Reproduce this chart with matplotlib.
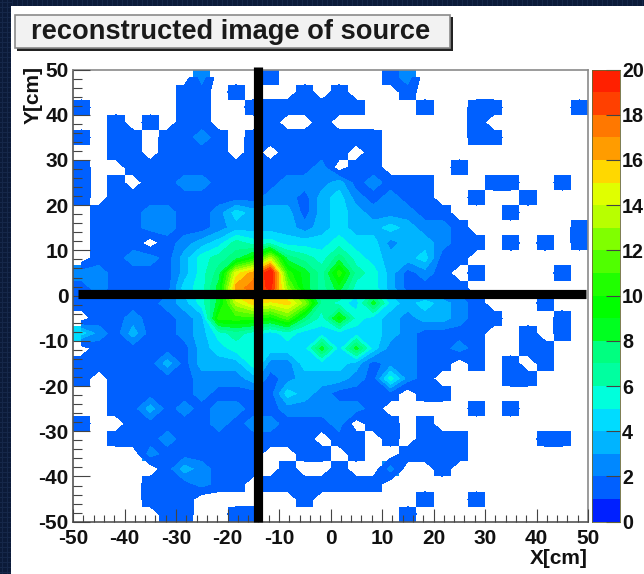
import numpy as np
import matplotlib
matplotlib.use("Agg")
import matplotlib.pyplot as plt
from matplotlib.colors import ListedColormap, BoundaryNorm
from matplotlib.patches import Rectangle
from matplotlib.ticker import FixedLocator, MultipleLocator

plt.rcParams['font.family'] = ['Liberation Sans', 'DejaVu Sans']
plt.rcParams['axes.unicode_minus'] = False

W, H = 644, 574

# Bin contents (band floor per bin), top row y = +48 to bottom row y = -48
row00 = [0,0,0,0,0,0,0,2,0,0,0,1,0,0,0,0,0,0,1,2,0,0,0,0,0,0,0,0,0,0]
row01 = [0,0,0,0,0,0,1,1,0,1,0,0,0,1,0,1,0,0,0,1,0,0,0,0,0,0,0,0,0,0]
row02 = [1,0,0,0,0,0,1,1,0,0,1,1,1,1,1,1,1,0,0,0,1,0,0,1,1,0,0,0,0,1]
row03 = [0,0,1,0,1,0,1,1,0,0,0,1,0,0,1,0,0,0,0,0,0,0,0,1,0,0,0,0,0,0]
row04 = [1,0,1,1,0,1,1,2,1,0,1,1,1,1,1,1,1,1,0,0,0,0,0,1,1,0,0,0,0,0]
row05 = [0,0,1,1,0,1,1,1,1,0,1,0,1,1,1,1,0,1,0,0,0,0,0,0,0,0,0,0,0,0]
row06 = [1,0,0,1,1,1,1,1,1,1,1,1,1,1,2,0,1,1,0,0,0,0,1,0,0,0,0,0,0,0]
row07 = [1,0,1,0,1,1,2,2,1,1,1,1,2,2,2,3,1,2,1,1,1,0,0,0,1,1,0,0,1,0]
row08 = [1,0,1,1,1,1,1,1,1,1,1,2,2,1,3,4,2,1,2,1,1,0,0,1,0,0,1,0,0,0]
row09 = [0,1,1,1,2,2,1,1,2,4,3,3,3,1,3,4,3,2,2,2,1,1,0,0,0,1,0,0,0,0]
row10 = [0,1,1,1,2,2,1,1,2,3,3,3,3,2,3,4,3,3,4,3,2,2,1,0,0,0,0,0,0,1]
row11 = [0,1,1,1,0,1,2,3,4,6,5,5,4,4,4,5,4,4,2,3,3,2,1,1,0,1,0,1,0,1]
row12 = [0,1,1,2,2,1,3,5,6,7,9,13,7,6,5,7,5,4,3,3,4,1,1,0,0,0,0,0,0,0]
row13 = [2,2,1,1,1,1,3,5,7,14,16,20,10,8,6,10,6,5,3,1,2,1,0,1,0,0,0,0,1,0]
row14 = [1,2,1,1,1,1,4,5,8,16,17,19,12,8,6,8,5,5,3,1,1,1,1,0,0,0,0,0,0,0]
row15 = [1,1,1,1,1,2,3,5,8,13,15,14,15,12,6,5,4,8,4,3,4,3,2,1,0,0,0,1,0,0]
row16 = [0,1,1,2,1,1,2,3,10,10,10,9,11,7,5,9,5,4,3,2,3,3,2,1,1,0,0,0,1,0]
row17 = [4,2,1,3,1,1,2,3,5,6,5,4,5,4,4,4,4,4,3,2,1,1,1,1,0,0,1,0,1,0]
row18 = [0,1,1,1,1,1,1,3,4,5,5,4,4,4,8,4,8,4,2,2,1,1,2,1,0,0,1,1,0,0]
row19 = [1,1,1,1,1,3,1,3,3,3,5,2,2,4,4,4,3,1,2,2,1,1,0,1,0,1,0,1,0,0]
row20 = [1,0,1,1,1,1,1,2,2,2,3,1,2,3,3,3,2,1,5,2,1,0,0,0,0,1,1,0,0,0]
row21 = [0,0,1,1,1,1,1,2,1,1,1,1,4,3,2,1,1,1,1,0,1,1,0,0,0,0,0,0,0,0]
row22 = [0,0,1,1,3,1,2,1,2,2,1,1,2,2,2,2,2,1,0,0,0,0,0,1,0,1,0,0,0,0]
row23 = [1,0,0,1,1,1,1,1,2,1,2,2,1,1,1,2,0,1,1,0,1,0,0,0,0,0,0,0,0,0]
row24 = [0,0,1,1,1,2,1,1,1,1,1,1,1,1,0,1,1,0,1,0,1,1,1,0,0,0,0,1,1,0]
row25 = [0,0,0,0,2,1,1,1,1,1,1,0,0,1,1,0,1,0,0,1,1,1,1,0,0,0,0,0,0,0]
row26 = [0,0,0,0,0,1,3,2,1,1,1,0,1,0,0,1,0,0,2,0,0,1,0,0,0,0,0,0,0,0]
row27 = [0,0,0,0,1,1,1,2,1,1,0,1,1,1,1,1,1,1,0,0,0,0,0,0,0,0,0,0,0,0]
row28 = [0,0,0,0,1,1,1,0,0,0,0,0,0,1,0,0,0,0,0,0,1,0,0,1,0,0,0,0,0,0]
row29 = [0,0,0,0,0,1,1,0,0,1,1,0,0,0,0,0,0,0,0,1,0,0,0,0,0,0,0,0,0,0]

counts = np.array([row00,row01,row02,row03,row04,row05,row06,row07,row08,row09,
                   row10,row11,row12,row13,row14,row15,row16,row17,row18,row19,
                   row20,row21,row22,row23,row24,row25,row26,row27,row28,row29], float)

band_colors = ['#0020ff','#0060ff','#0088ff','#00b4ff','#00dcff',
               '#00ffdc','#00ffa0','#00ff80','#00ff20','#00ff00',
               '#20ff00','#50ff00','#80ff00','#b8ff00','#e0ff00',
               '#ffd800','#ff9c00','#ff7800','#ff4000','#ff2000']
cbar_ticks = [0,2,4,6,8,10,12,14,16,18,20]
axis_ticks = [-50,-40,-30,-20,-10,0,10,20,30,40,50]
title_text = "reconstructed image of source"
cross_x, cross_y = -14.1, 0.3

def px_rect(x0, y0, x1, y1):
    return (x0/W, 1-y1/H, (x1-x0)/W, (y1-y0)/H)

fig = plt.figure(figsize=(W/100, H/100), dpi=100, facecolor='#0b1a38')
fig.patches.append(Rectangle((11/W, 0), 1-11/W, 1-6/H, transform=fig.transFigure,
                             fc='white', ec='none', zorder=-5))
# texture of the dark background
for xp in np.arange(2, 11, 5):
    fig.add_artist(plt.Line2D([xp/W]*2, [0, 1], color='#16284a', lw=0.7, zorder=-6))
for yp in np.arange(2, H, 5):
    fig.add_artist(plt.Line2D([0, 11/W], [1-yp/H]*2, color='#16284a', lw=0.7, zorder=-6))
for xp in np.arange(12, W, 5):
    fig.add_artist(plt.Line2D([xp/W]*2, [1-6/H, 1], color='#16284a', lw=0.7, zorder=-6))

# title box
x0, y0, w, h = px_rect(17, 17, 453, 51)
fig.patches.append(Rectangle((x0, y0), w, h, transform=fig.transFigure, fc='#222222', ec='none'))
x0, y0, w, h = px_rect(15, 15, 450, 48)
fig.patches.append(Rectangle((x0, y0), w, h, transform=fig.transFigure, fc='#f2f2f2', ec='#8a8a8a', lw=1.2))
fig.text(31/W, 1-32/H, title_text, fontsize=19.6, fontweight='bold', color='#1a1a1a',
         ha='left', va='center')

# main axes
ax = fig.add_axes(px_rect(73, 69.5, 588, 521.7))
edges = np.linspace(-50, 50, counts.shape[1]+1)
centers = 0.5*(edges[:-1]+edges[1:])
levels = np.arange(0, 21)
cmap = ListedColormap(band_colors)
norm = BoundaryNorm(levels, cmap.N)
field = (counts + 0.5*(counts > 0))[::-1]
ax.pcolormesh(edges, edges, np.ma.masked_where(field <= 0, field), cmap=cmap, norm=norm,
              linewidth=0, antialiased=False, rasterized=True)
cont_levels = [0.75] + list(range(2, 20)) + [20.6]
ax.contourf(centers, centers, field, levels=cont_levels, colors=band_colors[1:], antialiased=False)

ax.set_xlim(-50, 50); ax.set_ylim(-50, 50)
for s in ['top','right']:
    ax.spines[s].set_color('#8a8a8a'); ax.spines[s].set_linewidth(1.2)
for s in ['left','bottom']:
    ax.spines[s].set_color('#555555'); ax.spines[s].set_linewidth(1.2)

ax.xaxis.set_major_locator(FixedLocator(axis_ticks))
ax.yaxis.set_major_locator(FixedLocator(axis_ticks))
ax.xaxis.set_minor_locator(MultipleLocator(2))
ax.yaxis.set_minor_locator(MultipleLocator(2))
ax.set_xticklabels([str(t) for t in axis_ticks], fontsize=15, fontweight='bold', color='#111111')
ax.set_yticklabels([str(t) for t in axis_ticks], fontsize=15, fontweight='bold', color='#111111')
ax.tick_params(axis='x', which='major', direction='in', length=9.5, width=0.8, color='#444444', pad=5.5)
ax.tick_params(axis='x', which='minor', direction='in', length=5, width=0.8, color='#444444')
ax.tick_params(axis='y', which='major', direction='in', length=12, width=0.8, color='#444444', pad=3)
ax.tick_params(axis='y', which='minor', direction='in', length=6.5, width=0.8, color='#444444')
ax.set_axisbelow(False)

# cross-hair lines
ax.plot([cross_x, cross_x], [50.6, -50], color='black', lw=6.6, solid_capstyle='butt', clip_on=False, zorder=6)
ax.plot([-49, 49.6], [cross_y, cross_y], color='black', lw=6.6, solid_capstyle='butt', clip_on=False, zorder=6)

fig.text(588/W, 1-558/H, "X[cm]", fontsize=15, fontweight='bold', color='#111111', ha='right', va='center')
fig.text(33/W, 1-66/H, "Y[cm]", fontsize=15, fontweight='bold', color='#111111', rotation=90, ha='center', va='top')

# colour bar
cax = fig.add_axes(px_rect(591.7, 69.5, 620, 521.7))
cax.pcolormesh([0, 1], levels, np.arange(20).reshape(-1, 1)+0.5, cmap=cmap, norm=norm, linewidth=0)
cax.set_xlim(0, 1); cax.set_ylim(0, 20)
cax.xaxis.set_visible(False)
cax.yaxis.tick_right()
cax.set_yticks(cbar_ticks)
cax.set_yticklabels([str(t) for t in cbar_ticks], fontsize=14.2, fontweight='bold', color='#111111')
cax.tick_params(axis='y', direction='in', length=10, width=0.8, color='#444444', pad=1.5)
for s in cax.spines.values():
    s.set_color('#666633'); s.set_linewidth(0.6)

fig.savefig("out.png", dpi=100, facecolor=fig.get_facecolor())
